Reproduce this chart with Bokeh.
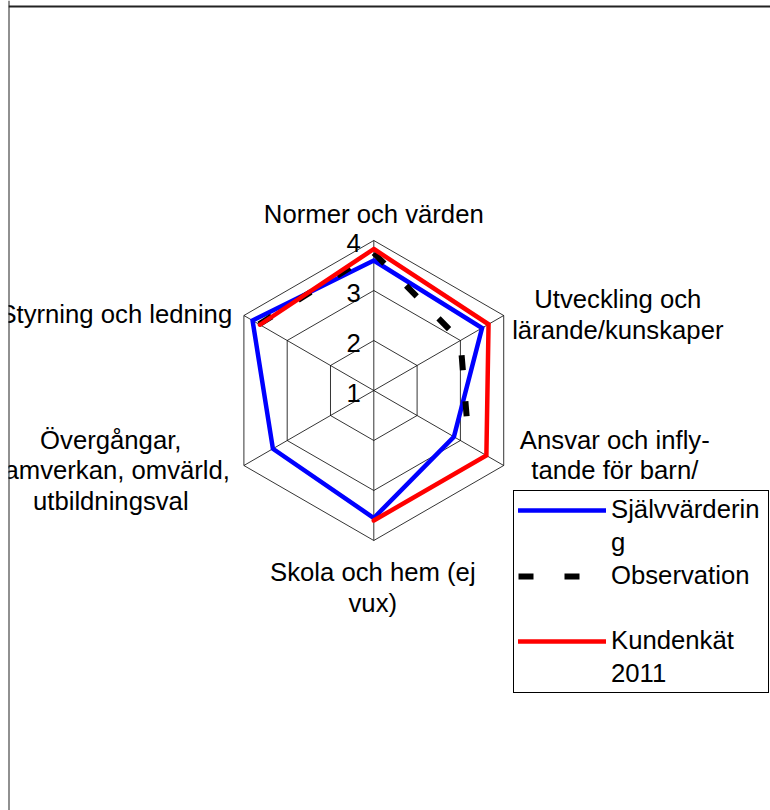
import math
from bokeh.plotting import figure
from bokeh.models import Legend, LegendItem, Span, Range1d
from bokeh.core.properties import value
from bokeh.embed import file_html
from bokeh.resources import INLINE

# ---- data ----
categories = [
    "Normer och värden",
    "Utveckling och\nlärande/kunskaper",
    "Ansvar och infly-\ntande för barn/\nelever",
    "Skola och hem (ej\nvux)",
    "Övergångar,\nsamverkan, omvärld,\nutbildningsval",
    "Styrning och ledning",
]
sjalvvardering = [3.6, 3.5, 2.85, 3.55, 3.33, 3.8]
observation = [3.75, 3.0, 3.2, None, None, 3.65]
kundenkat_2011 = [3.83, 3.65, 3.6, 3.6, None, 3.63]
tick_values = [1, 2, 3, 4]
tick_labels = ["1", "2", "3", "4"]
# legend text, one entry per displayed line (first line of each carries the glyph)
legend_lines = [["Självvärderin", "g"], ["Observation", " "], ["Kundenkät", "2011"]]

# ---- layout / style ----
W, H = 770, 810
FRAME_LEFT = 8                 # chart area starts here (text is clipped at it)
PX = 50.0                      # pixels per value unit
CX, CY = 373.3 - FRAME_LEFT, 390.0   # chart centre inside the frame (px from frame top-left)
FW = W - FRAME_LEFT
RMIN = 1.0
FONT = "Liberation Sans"
FS = "25.7px"
# label anchor offsets from the centre, in px (dx right, dy down)
label_offsets = [(0, -177), (244, -76), (241, 80), (-1, 197), (-263, 80), (-258, -77)]

n = len(categories)
angles = [math.radians(90 - 360.0 / n * i) for i in range(n)]


def polar(vals):
    xs, ys = [], []
    for v, a in zip(vals, angles):
        if v is None:
            xs.append(float("nan")); ys.append(float("nan"))
        else:
            xs.append((v - RMIN) * math.cos(a)); ys.append((v - RMIN) * math.sin(a))
    xs.append(xs[0]); ys.append(ys[0])
    return xs, ys


p = figure(width=W, height=H, output_backend="svg", toolbar_location=None,
           x_range=Range1d(-CX / PX, (FW - CX) / PX),
           y_range=Range1d(-(H - CY) / PX, CY / PX),
           min_border=0, min_border_left=FRAME_LEFT, outline_line_color=None)
p.axis.visible = False
p.grid.visible = False
p.background_fill_color = "white"
p.border_fill_color = "white"

# chart-area border (top & left)
p.add_layout(Span(location=(CY - 6) / PX, dimension="width", line_color="#222222", line_width=2))
p.add_layout(Span(location=-CX / PX, dimension="height", line_color="#222222", line_width=2))

# ---- grid ----
ring_xs, ring_ys = [], []
for t in tick_values[1:]:
    xs, ys = polar([t] * n)
    ring_xs.append(xs); ring_ys.append(ys)
p.multi_line(ring_xs, ring_ys, line_color="black", line_width=0.8)
outer = tick_values[-1] - RMIN
p.multi_line([[0, outer * math.cos(a)] for a in angles],
             [[0, outer * math.sin(a)] for a in angles],
             line_color="black", line_width=0.8)

# tick labels
p.text(x=[0] * len(tick_values), y=[t - RMIN for t in tick_values], text=tick_labels,
       x_offset=-13, y_offset=2, text_align="right", text_baseline="middle",
       text_font=value(FONT), text_font_size=FS, text_color="black")

# category labels
p.text(x=[dx / PX for dx, dy in label_offsets], y=[-dy / PX for dx, dy in label_offsets],
       text=categories, text_align="center", text_baseline="middle",
       text_font=value(FONT), text_font_size=FS, text_line_height=1.1, text_color="black")

# ---- series ----
xs, ys = polar(sjalvvardering)
r1 = p.line(xs, ys, line_color="#0000FF", line_width=4.5, line_join="miter", line_cap="round")
xs, ys = polar(observation)
r2 = p.line(xs, ys, line_color="black", line_width=6, line_dash="15 31", line_join="miter", line_cap="butt")
xs, ys = polar(kundenkat_2011)
r3 = p.line(xs, ys, line_color="#FF0000", line_width=4.5, line_join="miter", line_cap="round")

# invisible renderer used for the wrapped second line of each legend entry
blank = p.line(x=[], y=[], line_alpha=0)

items = []
for lines, r in zip(legend_lines, [r1, r2, r3]):
    items.append(LegendItem(label=lines[0], renderers=[r]))
    items.append(LegendItem(label=lines[1], renderers=[blank]))

legend = Legend(items=items, location=(513 - FRAME_LEFT, 117), glyph_width=88, glyph_height=28,
                label_text_font=FONT, label_text_font_size=FS, label_text_color="black",
                label_height=28, label_width=153, label_standoff=5, padding=4, spacing=4, margin=0,
                border_line_color="black", border_line_width=1, border_line_alpha=1.0,
                background_fill_color="white", background_fill_alpha=1.0)
p.add_layout(legend)

open("out.html", "w").write(file_html(p, INLINE))
